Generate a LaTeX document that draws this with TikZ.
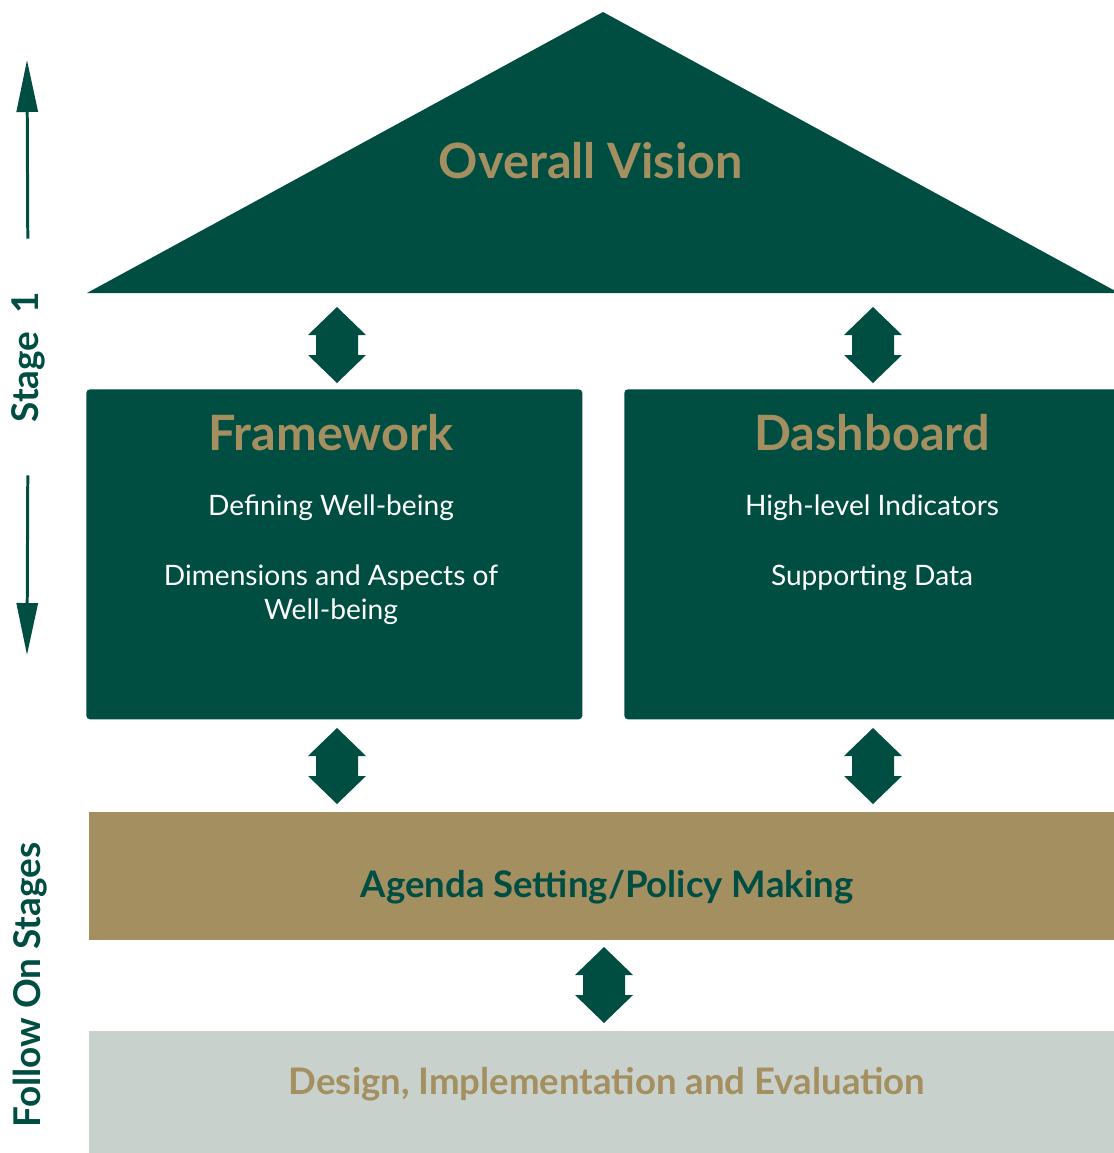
\documentclass[tikz,border=0pt]{standalone}
\usepackage{fontspec}
\setmainfont{Lato}
\usetikzlibrary{arrows.meta}

\definecolor{wbgreen}{RGB}{0,77,66}
\definecolor{wbgold}{RGB}{164,143,96}
\definecolor{wbgrey}{RGB}{200,209,203}

\tikzset{
	block/.style={fill=wbgreen, rounded corners=2pt, inner sep=0pt, anchor=north west},
	band/.style={inner sep=0pt, anchor=north west, minimum width=20.62cm},
	twoway/.pic={\fill[wbgreen] (0,-38) -- (29,-10) -- (21,-10) -- (21,10) -- (29,10)
		-- (0,38) -- (-29,10) -- (-21,10) -- (-21,-10) -- (-29,-10) -- cycle;},
	headtext/.style={text=wbgold, font=\fontsize{27.7}{34}\selectfont\bfseries},
	bodytext/.style={text=white, align=center, font=\fontsize{16}{19.2}\selectfont},
	bandtext/.style={font=\fontsize{20.8}{25}\selectfont\bfseries},
	sidelabel/.style={text=wbgreen, rotate=90, font=\fontsize{21}{25}\selectfont\bfseries},
	stagearrow/.style={draw=wbgreen, line width=1.7pt, shorten <=0.94cm,
		-{Triangle[length=1.04cm, width=0.42cm]}}
}

\begin{document}
\begin{tikzpicture}[x=0.02cm, y=-0.02cm]
	\useasboundingbox (0,0) rectangle (1113,1153);

	% roof
	\coordinate (apex) at (603,12);
	\coordinate (roofl) at (87,293);
	\coordinate (roofr) at (1119,293);
	\fill[wbgreen] (apex) -- (roofl) -- (roofr) -- cycle;
	\node[headtext] (vision) at (591,161) {Overall Vision};

	% stage 1 boxes
	\node[block, minimum width=9.92cm, minimum height=6.6cm] (fw) at (86,389) {};
	\node[block, minimum width=9.92cm, minimum height=6.6cm] (db) at (624,389) {};
	\node[headtext] (fwtitle) at (331,433) {Framework};
	\node[bodytext] (fwdef) at (331,508) {Defining Well-being};
	\node[bodytext] (fwdim) at (331,595) {Dimensions and Aspects of\\Well-being};
	\node[headtext] (dbtitle) at (872,433) {Dashboard};
	\node[bodytext] (dbind) at (872,508) {High-level Indicators};
	\node[bodytext] (dbdata) at (872,578) {Supporting Data};

	% follow on stages
	\node[band, fill=wbgold, minimum height=2.56cm] (agenda) at (89,812) {};
	\node[bandtext, text=wbgreen] (agtext) at (607,887) {Agenda Setting/Policy Making};
	\node[band, fill=wbgrey, minimum height=2.5cm] (design) at (89,1031) {};
	\node[bandtext, text=wbgold] (detext) at (607,1084) {Design, Implementation and Evaluation};

	% two-way links
	\pic (visfw) at (337,345) {twoway};
	\pic (visdb) at (873,345) {twoway};
	\pic (fwag) at (337,766) {twoway};
	\pic (dbag) at (873,766) {twoway};
	\pic (agde) at (604,985) {twoway};

	% side labels
	\node[sidelabel] (stage) at (28,357) {Stage\enspace 1};
	\coordinate (uptip) at (27,60);
	\coordinate (downtip) at (27,655);
	\draw[stagearrow] (stage.east) -- (uptip);
	\draw[stagearrow] (stage.west) -- (downtip);
	\node[sidelabel] (follow) at (30,985) {Follow On Stages};
\end{tikzpicture}
\end{document}
